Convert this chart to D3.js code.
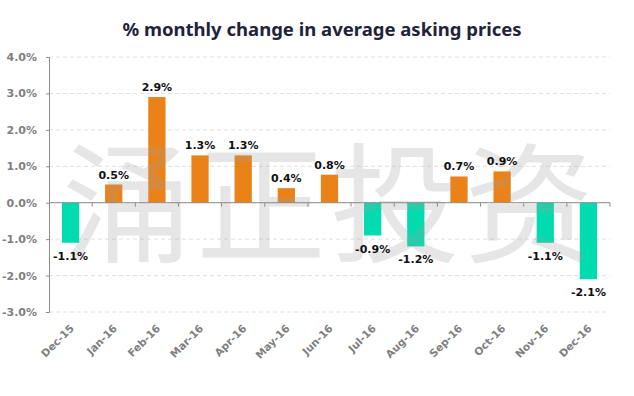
<!DOCTYPE html>
<html>
<head>
<meta charset="utf-8">
<script src="https://cdn.jsdelivr.net/npm/d3@7"></script>
<style>
body { margin: 0; background: #fff; }
svg { display: block; }
</style>
</head>
<body>
<script>
// months and % change
var months = ["Dec-15", "Jan-16", "Feb-16", "Mar-16", "Apr-16", "May-16", "Jun-16",
	"Jul-16", "Aug-16", "Sep-16", "Oct-16", "Nov-16", "Dec-16"];
var changes = [-1.1, 0.5, 2.9, 1.3, 1.3, 0.4, 0.77, -0.9, -1.2, 0.72, 0.86, -1.1, -2.1];
var yTicks = [4, 3, 2, 1, 0, -1, -2, -3];

var width = 634, height = 396;
var margin = {left: 49, right: 24, top: 57, bottom: 84};

var svg = d3.select("body").append("svg")
	.attr("width", width)
	.attr("height", height);

var x = d3.scaleBand()
	.domain(months)
	.range([margin.left, width - margin.right])
	.paddingInner(0.6)
	.paddingOuter(0.3);

var y = d3.scaleLinear()
	.domain([-3, 4])
	.range([height - margin.bottom, margin.top]);

//title
svg.append("text")
	.attr("x", 322)
	.attr("y", 36)
	.attr("text-anchor", "middle")
	.style("font-family", "'Noto Sans', sans-serif")
	.style("font-weight", "bold")
	.style("font-size", "18.5px")
	.style("fill", "#22223a")
	.text("% monthly change in average asking prices");

//gridlines
svg.selectAll(".grid")
	.data(yTicks)
	.enter()
	.append("line")
	.attr("x1", margin.left)
	.attr("x2", width - margin.right)
	.attr("y1", function(d){ return y(d); })
	.attr("y2", function(d){ return y(d); })
	.style("stroke", "#e0e0e0")
	.style("stroke-dasharray", "4,3");

//y axis
var yAxis = svg.append("g")
	.attr("transform", "translate(" + margin.left + ",0)")
	.call(d3.axisLeft(y).tickValues(yTicks).tickSize(3).tickPadding(9)
		.tickFormat(function(d){ return d.toFixed(1) + "%"; }));
yAxis.select(".domain").style("stroke", "#8c8c8c");
yAxis.selectAll(".tick line").style("stroke", "#8c8c8c");
yAxis.selectAll("text")
	.style("font-family", "'DejaVu Sans', Verdana, sans-serif")
	.style("font-weight", "bold")
	.style("font-size", "11px")
	.style("fill", "#7f7f7f");

//bars
svg.selectAll(".bar")
	.data(changes)
	.enter()
	.append("rect")
	.attr("class", "bar")
	.attr("x", function(d, i){ return x(months[i]); })
	.attr("width", x.bandwidth())
	.attr("y", function(d){ return y(Math.max(0, d)); })
	.attr("height", function(d){ return Math.abs(y(d) - y(0)); })
	.style("fill", function(d){ return d < 0 ? "#00dbb0" : "#ea8217"; });

//watermark
svg.append("text")
	.attr("x", 330)
	.attr("y", 252)
	.attr("text-anchor", "middle")
	.style("font-family", "'Noto Sans CJK SC', sans-serif")
	.style("font-size", "130px")
	.style("letter-spacing", "4px")
	.style("fill", "#a0a0a0")
	.style("opacity", 0.25)
	.text("涌正投资");

//zero axis with ticks between months
svg.append("line")
	.attr("x1", margin.left)
	.attr("x2", width - margin.right)
	.attr("y1", y(0))
	.attr("y2", y(0))
	.style("stroke", "#8c8c8c");
var step = x.step();
svg.selectAll(".xtick")
	.data(months)
	.enter()
	.append("line")
	.attr("x1", function(d){ return x(d) + x.bandwidth() + step * x.paddingInner() / 2; })
	.attr("x2", function(d){ return x(d) + x.bandwidth() + step * x.paddingInner() / 2; })
	.attr("y1", y(0))
	.attr("y2", y(0) + 4)
	.style("stroke", "#8c8c8c");

//value labels
svg.selectAll(".val")
	.data(changes)
	.enter()
	.append("text")
	.attr("x", function(d, i){ return x(months[i]) + x.bandwidth() / 2; })
	.attr("y", function(d){ return d < 0 ? y(d) + 17 : y(d) - 6; })
	.attr("text-anchor", "middle")
	.style("font-family", "'DejaVu Sans', Verdana, sans-serif")
	.style("font-weight", "bold")
	.style("font-size", "11px")
	.style("fill", "#111")
	.text(function(d){ return d.toFixed(1) + "%"; });

//month labels
svg.selectAll(".month")
	.data(months)
	.enter()
	.append("text")
	.attr("transform", function(d){
		return "translate(" + (x(d) + x.bandwidth() / 2 + 4) + "," + (y(-3) + 17) + ") rotate(-45)";
	})
	.attr("text-anchor", "end")
	.style("font-family", "'DejaVu Sans', Verdana, sans-serif")
	.style("font-weight", "bold")
	.style("font-size", "10.5px")
	.style("fill", "#7f7f7f")
	.text(function(d){ return d; });
</script>
</body>
</html>
